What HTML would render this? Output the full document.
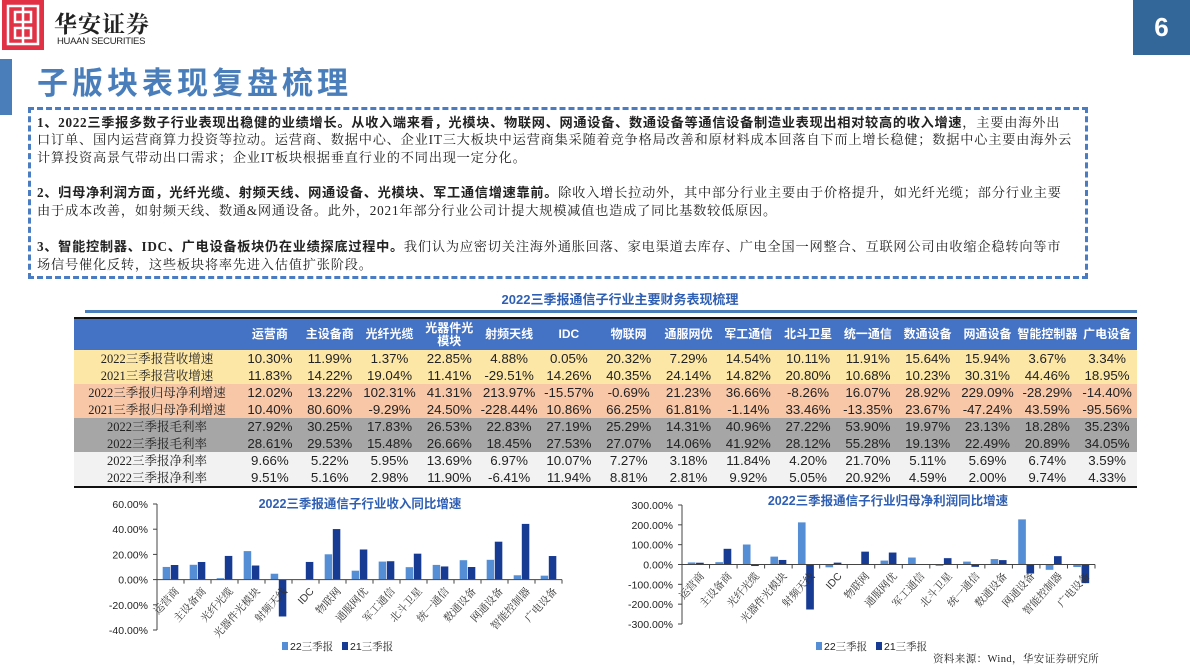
<!DOCTYPE html>
<html><head><meta charset="utf-8">
<style>
*{margin:0;padding:0;box-sizing:border-box}
body{width:1190px;height:669px;background:#fff;position:relative;overflow:hidden;font-family:"Liberation Serif","Noto Serif CJK SC",serif;color:#222}
.abs{position:absolute}
#box{left:28px;top:107px;width:1060px;height:172px;border:3px dashed #4a7cc4}
.p{position:absolute;left:37px;font-size:13.2px;line-height:18px;width:1045px;letter-spacing:0.8px;white-space:nowrap}
.p b{font-family:"Liberation Serif","Noto Sans CJK SC",sans-serif;font-weight:bold;letter-spacing:0.7px}
table{border-collapse:collapse;table-layout:fixed}
td{height:17px;line-height:16px;font-family:"Liberation Sans","Noto Sans CJK SC",sans-serif;font-size:13.3px;text-align:center;padding:0;white-space:nowrap;overflow:hidden}
td.lab{font-family:"Liberation Serif","Noto Serif CJK SC",serif;font-size:12.5px}
tr.h td{height:31px;line-height:13px;background:#4472c4;color:#fff;font-weight:bold;font-size:12px;font-family:"Liberation Sans","Noto Sans CJK SC",sans-serif}
</style></head><body>
<div class="abs" style="left:2px;top:0;width:42px;height:50px;background:#e03145">
<svg width="42" height="50"><rect x="6" y="6" width="30" height="38" fill="none" stroke="#fff" stroke-width="2.5"/><rect x="13" y="12" width="16" height="10" fill="none" stroke="#fff" stroke-width="2.5"/><rect x="13" y="28" width="16" height="10" fill="none" stroke="#fff" stroke-width="2.5"/><line x1="21" y1="6" x2="21" y2="44" stroke="#fff" stroke-width="2.5"/></svg></div>
<div class="abs" style="left:54px;top:6px;font-size:23px;font-weight:bold;font-family:'Noto Serif CJK SC',serif;letter-spacing:1px">华安证券</div>
<div class="abs" style="left:57px;top:36px;font-size:9.5px;font-family:'Liberation Sans',sans-serif;letter-spacing:-0.3px">HUAAN SECURITIES</div>
<div class="abs" style="left:1133px;top:0;width:57px;height:55px;background:#336699;color:#fff;font:bold 26px 'Liberation Sans',sans-serif;text-align:center;line-height:55px">6</div>
<div class="abs" style="left:0;top:59px;width:12px;height:56px;background:#4a7ebb"></div>
<div class="abs" style="left:37px;top:58px;font-size:31px;font-weight:bold;color:#4a7ebb;font-family:'Noto Sans CJK SC',sans-serif;letter-spacing:4px">子版块表现复盘梳理</div>
<div class="abs" id="box"></div>
<div class="p" style="top:114px"><b>1、2022三季报多数子行业表现出稳健的业绩增长。从收入端来看，光模块、物联网、网通设备、数通设备等通信设备制造业表现出相对较高的收入增速</b>，主要由海外出</div>
<div class="p" style="top:131px">口订单、国内运营商算力投资等拉动。运营商、数据中心、企业IT三大板块中运营商集采随着竞争格局改善和原材料成本回落自下而上增长稳健；数据中心主要由海外云</div>
<div class="p" style="top:149px">计算投资高景气带动出口需求；企业IT板块根据垂直行业的不同出现一定分化。</div>
<div class="p" style="top:184px"><b>2、归母净利润方面，光纤光缆、射频天线、网通设备、光模块、军工通信增速靠前。</b>除收入增长拉动外，其中部分行业主要由于价格提升，如光纤光缆；部分行业主要</div>
<div class="p" style="top:202px">由于成本改善，如射频天线、数通&amp;网通设备。此外，2021年部分行业公司计提大规模减值也造成了同比基数较低原因。</div>
<div class="p" style="top:238px"><b>3、智能控制器、IDC、广电设备板块仍在业绩探底过程中。</b>我们认为应密切关注海外通胀回落、家电渠道去库存、广电全国一网整合、互联网公司由收缩企稳转向等市</div>
<div class="p" style="top:256px">场信号催化反转，这些板块将率先进入估值扩张阶段。</div>

<div class="abs" style="left:400px;top:289px;width:440px;text-align:center;color:#2f5fb3;font-weight:bold;font-size:13px;font-family:'Liberation Sans','Noto Sans CJK SC',sans-serif">2022三季报通信子行业主要财务表现梳理</div>
<div class="abs" style="left:85px;top:310px;width:1052px;height:3px;background:#4a7ebb"></div>
<div class="abs" style="left:74px;top:317px;width:1063px;height:2px;background:#111"></div>
<table class="abs" id="tbl" style="left:74px;top:319px;width:1063px"></table>
<div class="abs" style="left:74px;top:486px;width:1063px;height:2px;background:#111"></div>

<svg class="abs" id="c1" style="left:0;top:0" width="600" height="669"></svg>
<svg class="abs" id="c2" style="left:0;top:0" width="1190" height="669"></svg>
<div class="abs" style="left:933px;top:651px;font-size:10.5px;letter-spacing:0.4px;font-family:'Liberation Serif','Noto Serif CJK SC',serif">资料来源：Wind，华安证券研究所</div>

<script>
const categories=["运营商","主设备商","光纤光缆","光器件光模块","射频天线","IDC","物联网","通服网优","军工通信","北斗卫星","统一通信","数通设备","网通设备","智能控制器","广电设备"];
const headerLabels=["运营商","主设备商","光纤光缆","光器件光<br>模块","射频天线","IDC","物联网","通服网优","军工通信","北斗卫星","统一通信","数通设备","网通设备","智能控制器","广电设备"];
const rowLabels=["2022三季报营收增速","2021三季报营收增速","2022三季报归母净利增速","2021三季报归母净利增速","2022三季报毛利率","2022三季报毛利率","2022三季报净利率","2022三季报净利率"];
const rev22=[10.30,11.99,1.37,22.85,4.88,0.05,20.32,7.29,14.54,10.11,11.91,15.64,15.94,3.67,3.34];
const rev21=[11.83,14.22,19.04,11.41,-29.51,14.26,40.35,24.14,14.82,20.80,10.68,10.23,30.31,44.46,18.95];
const np22=[12.02,13.22,102.31,41.31,213.97,-15.57,-0.69,21.23,36.66,-8.26,16.07,28.92,229.09,-28.29,-14.40];
const np21=[10.40,80.60,-9.29,24.50,-228.44,10.86,66.25,61.81,-1.14,33.46,-13.35,23.67,-47.24,43.59,-95.56];
const gm22=[27.92,30.25,17.83,26.53,22.83,27.19,25.29,14.31,40.96,27.22,53.90,19.97,23.13,18.28,35.23];
const gm21=[28.61,29.53,15.48,26.66,18.45,27.53,27.07,14.06,41.92,28.12,55.28,19.13,22.49,20.89,34.05];
const nm22=[9.66,5.22,5.95,13.69,6.97,10.07,7.27,3.18,11.84,4.20,21.70,5.11,5.69,6.74,3.59];
const nm21=[9.51,5.16,2.98,11.90,-6.41,11.94,8.81,2.81,9.92,5.05,20.92,4.59,2.00,9.74,4.33];
const revTicks=[60,40,20,0,-20,-40];
const npTicks=[300,200,100,0,-100,-200,-300];
const seriesNames=["22三季报","21三季报"];

const tbl=document.getElementById('tbl');
const rows=[rev22,rev21,np22,np21,gm22,gm21,nm22,nm21];
const bgs=["#fde7a6","#fde7a6","#f7c7a8","#f7c7a8","#a6a6a6","#a6a6a6","#f2f2f2","#f2f2f2"];
let h='<colgroup><col style="width:166px">'+categories.map(()=>'<col>').join('')+'</colgroup>';
h+='<tr class="h"><td></td>'+headerLabels.map(c=>'<td>'+c+'</td>').join('')+'</tr>';
rows.forEach((r,i)=>{h+='<tr style="background:'+bgs[i]+'"><td class="lab">'+rowLabels[i]+'</td>'+r.map(v=>'<td>'+v.toFixed(2)+'%</td>').join('')+'</tr>';});
tbl.innerHTML=h;

const NS="http://www.w3.org/2000/svg";
function mk(svg,tag,attrs,text){const e=document.createElementNS(NS,tag);for(const k in attrs)e.setAttribute(k,attrs[k]);if(text!==undefined)e.textContent=text;svg.appendChild(e);return e;}
function chart(id,title,s1,s2,ticks,o){
 const svg=document.getElementById(id);
 const x0=o.x0,x1=o.x1,yTop=o.yTop,yBot=o.yBot;
 const vmax=ticks[0],vmin=ticks[ticks.length-1];
 const y=v=>yTop+(vmax-v)/(vmax-vmin)*(yBot-yTop);
 const bw=(x1-x0)/categories.length;
 const t=mk(svg,'text',{x:o.tx,y:o.ty,'text-anchor':'middle','font-size':12.5,'font-weight':'bold',fill:'#2f5fb3','font-family':'Liberation Sans,Noto Sans CJK SC,sans-serif'},title);
 
 
 ticks.forEach(v=>{
  const l=mk(svg,'text',{x:x0-9,y:y(v)+4,'text-anchor':'end','font-size':10.5,fill:'#222','font-family':'Liberation Sans,sans-serif'},v.toFixed(2)+'%');
  
  
  mk(svg,'line',{x1:x0-4,x2:x0,y1:y(v),y2:y(v),stroke:'#444'});
 });
 mk(svg,'line',{x1:x0,x2:x0,y1:yTop,y2:yBot,stroke:'#444'});
 categories.forEach((c,i)=>{
  const cx=x0+bw*(i+0.5),w=bw*0.3;
  [[s1[i],'#558ed5',cx-w],[s2[i],'#173a92',cx]].forEach(([v,col,bx])=>{
   const r=mk(svg,'rect',{x:bx,y:Math.min(y(v),y(0)),width:w,height:Math.max(0.5,Math.abs(y(v)-y(0))),fill:col,stroke:'#fff','stroke-width':0.6});
   
   
  });
  mk(svg,'line',{x1:x0+bw*(i+1),x2:x0+bw*(i+1),y1:y(0),y2:y(0)+4,stroke:'#444'});
  const ax=cx+9,ay=y(0)+12;
  const lb=mk(svg,'text',{x:ax,y:ay,'text-anchor':'end','font-size':10.5,fill:'#333',transform:'rotate(-48 '+ax+' '+ay+')','font-family':'Liberation Sans,Noto Serif CJK SC,serif'},c);
  
  
 });
 mk(svg,'line',{x1:x0,x2:x1,y1:y(0),y2:y(0),stroke:'#444'});
 seriesNames.forEach((n,k)=>{
  const lx=o.lx+k*60;
  const sw=mk(svg,'rect',{x:lx,y:o.ly-8,width:6,height:8,fill:k?'#173a92':'#558ed5'});
  
  
  const lt=mk(svg,'text',{x:lx+8,y:o.ly,'font-size':10.5,fill:'#222','font-family':'Liberation Sans,Noto Serif CJK SC,serif'},n);
  
  
 });
}
chart('c1','2022三季报通信子行业收入同比增速',rev22,rev21,revTicks,{x0:157,x1:562,yTop:504,yBot:630,tx:360,ty:508,lx:282,ly:650});
chart('c2','2022三季报通信子行业归母净利润同比增速',np22,np21,npTicks,{x0:682,x1:1095,yTop:505,yBot:624,tx:888,ty:505,lx:816,ly:650});
</script>
</body></html>
